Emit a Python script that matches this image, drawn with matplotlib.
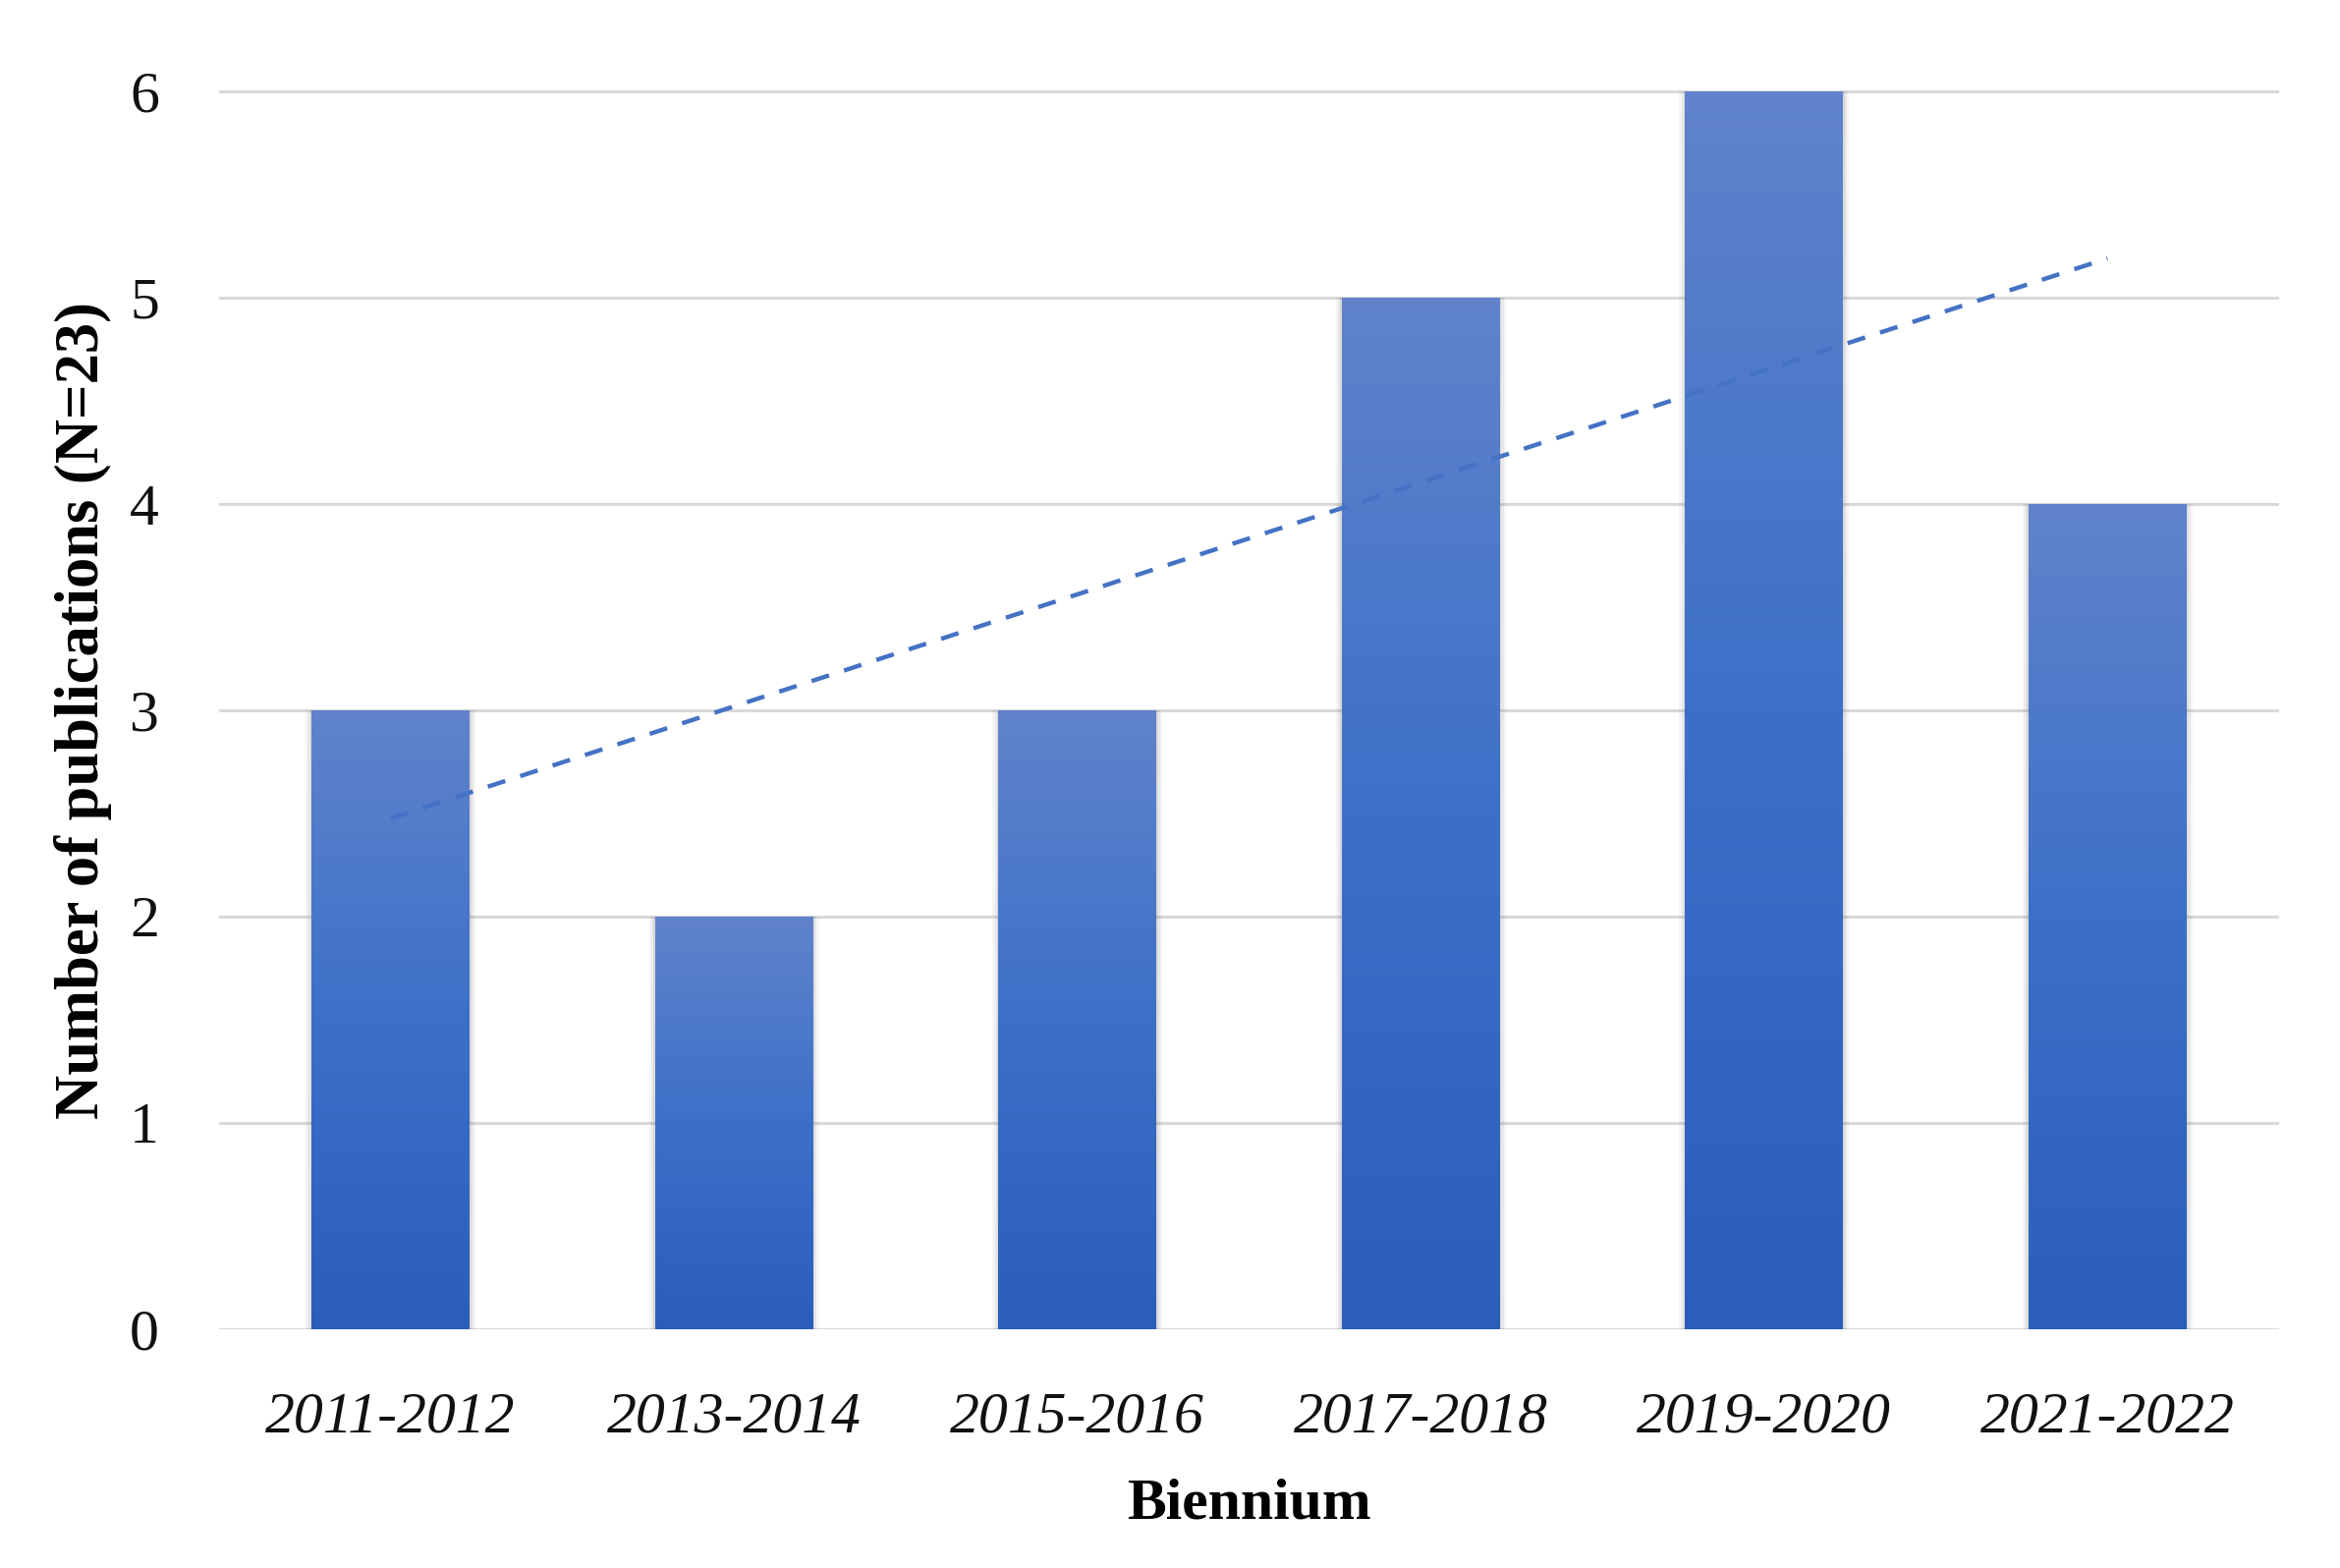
import numpy as np
import matplotlib
matplotlib.use("Agg")
import matplotlib.pyplot as plt
from matplotlib.colors import LinearSegmentedColormap
from matplotlib.patches import Rectangle

categories = ["2011-2012", "2013-2014", "2015-2016", "2017-2018", "2019-2020", "2021-2022"]
publications = [3, 2, 3, 5, 6, 4]
yticks = [0, 1, 2, 3, 4, 5, 6]

plt.rcParams['font.family'] = ['Liberation Serif', 'DejaVu Serif']

fig = plt.figure(figsize=(11.91, 7.98), dpi=200)
ymax = 6.3
bottom, top6 = 0.1523, 0.9417
ax = fig.add_axes([0.0936, bottom, 0.974 - 0.0936, (top6 - bottom) * ymax / 6])

x = np.arange(len(categories))
width = 0.46

for yt in yticks:
    ax.axhline(yt, color='#d9d9d9', lw=1.1, zorder=0)

cmap = LinearSegmentedColormap.from_list('g', ['#2b5dbb', '#3c70c8', '#6083cb'])
grad = np.linspace(0, 1, 256).reshape(-1, 1)

bars = ax.bar(x, publications, width=width, color='none', zorder=2)
for b in bars:
    bx, by, bw, bh = b.get_x(), b.get_y(), b.get_width(), b.get_height()
    for k, a in [(0.018, 0.06), (0.011, 0.08), (0.005, 0.10)]:
        ax.add_patch(Rectangle((bx - k, by), bw + 2 * k, bh, facecolor='#555555',
                               edgecolor='none', alpha=a, zorder=1.5))
    im = ax.imshow(grad, extent=[bx, bx + bw, by, by + bh], origin='lower',
                   cmap=cmap, aspect='auto', zorder=2)
    im.set_clip_path(b)

ax.set_aspect('auto')
ax.set_xlim(-0.5, len(categories) - 0.5)
ax.set_ylim(0, ymax)

coef = np.polyfit(x, publications, 1)
trend = np.polyval(coef, x)
ax.plot([x[0], x[-1]], [trend[0], trend[-1]], color='#4472c4', lw=1.6,
        dashes=(4.2, 3.6), zorder=3)

for s in ax.spines.values():
    s.set_visible(False)
ax.set_yticks(yticks)
ax.set_xticks(x)
ax.set_xticklabels(categories, fontstyle='italic')
ax.tick_params(axis='both', length=0, labelsize=21.5, colors='#111111')
ax.tick_params(axis='y', pad=22)
ax.tick_params(axis='x', pad=23)

ax.set_ylabel("Number of publications (N=23)", fontsize=22.5, fontweight='bold')
ax.yaxis.set_label_coords(-0.052, 3 / ymax)
ax.set_xlabel("Biennium", fontsize=21.5, fontweight='bold', labelpad=12)

fig.savefig("out.png", dpi=200, facecolor='white')
